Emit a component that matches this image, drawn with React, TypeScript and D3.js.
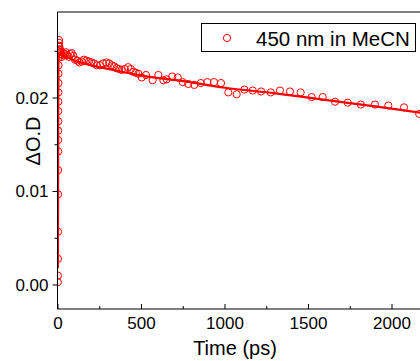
import React from "react";
import * as d3 from "d3";

const timePs = [
  -1.0, -0.6, -0.2, 0.2, 0.5, 0.8, 1.0, 1.2, 1.4, 1.6, 1.8, 2.0, 2.2, 2.5, 2.8, 3.2, 3.7, 4.3, 5, 6, 7, 8, 10, 12, 15, 18, 22, 27, 33, 40, 47, 55, 64, 73, 82, 92,
  102, 115, 128, 142, 155, 170, 185, 200, 216, 232, 251, 270, 290, 306, 322, 336, 351, 366, 381, 400, 420, 436, 451, 466, 481,
  501, 527, 567, 601, 631, 651, 684, 717, 747, 780, 816, 855, 894, 934, 976, 1020, 1070, 1116, 1166, 1216, 1274, 1329, 1389, 1453,
  1519, 1585, 1659, 1735, 1813, 1898, 1978, 2072, 2163,
];
const deltaOD = [
  0.0003, 0.001, 0.0028, 0.0057, 0.0097, 0.0123, 0.0143, 0.0155, 0.0165, 0.0175, 0.0186, 0.0196, 0.0206, 0.0216, 0.0226, 0.0235, 0.0243, 0.025, 0.0256, 0.0262, 0.0259, 0.0255, 0.0252, 0.0249, 0.0251, 0.0247, 0.0244, 0.0246, 0.0248, 0.0247, 0.0249, 0.0246, 0.0244, 0.0247, 0.0248, 0.0245,
  0.0241, 0.024, 0.0238, 0.0239, 0.0241, 0.024, 0.0239, 0.0238, 0.0237, 0.0235, 0.0235, 0.0237, 0.0238, 0.0237, 0.0235, 0.0234, 0.0232, 0.0231, 0.023, 0.0231, 0.0233, 0.0231, 0.0228, 0.0227, 0.0226,
  0.0222, 0.02246, 0.0219, 0.02246, 0.0219, 0.022, 0.0223, 0.0222, 0.0217, 0.0215, 0.0214, 0.0216, 0.0217, 0.0217, 0.0216, 0.0206, 0.0204, 0.0209, 0.0208, 0.0207, 0.0206, 0.0208, 0.0207, 0.0206,
  0.0201, 0.0201, 0.0196, 0.0195, 0.0193, 0.0193, 0.0192, 0.019, 0.0183,
];

const fitTime = [-0.5, 0.5, 1.5, 2.5, 4, 20, 50, 100, 200, 300, 500, 750, 1000, 1300, 1600, 1900, 2200];
const fitOD = [0.0018, 0.011, 0.02, 0.024, 0.0247, 0.0246, 0.0244, 0.024, 0.0235, 0.0231, 0.0224, 0.0218, 0.0211, 0.0205, 0.0198, 0.0191, 0.01835];

const xMajorTicks = [0, 500, 1000, 1500, 2000];
const xMinorTicks = [250, 750, 1250, 1750];
const yMajorTicks = [0.0, 0.01, 0.02];
const yMinorTicks = [0.005, 0.015, 0.025];

const legendLabel = "450 nm in MeCN";
const xTitle = "Time (ps)";
const yTitle = "ΔO.D";

const W = 420;
const H = 361;
const FONT = "'Liberation Sans', Arial, sans-serif";

export default function App() {
  const left = 57.5;
  const top = 12;
  const bottom = 309;
  const x = d3.scaleLinear().domain([-3, 2200]).range([left, left + 2203 * (83.5 / 500)]);
  const y = d3.scaleLinear().domain([-0.00257, 0.0292]).range([bottom, top]);
  const right = x(2200);

  const line = d3
    .line<number>()
    .x((_, i) => x(fitTime[i]))
    .y((d) => y(d))
    .curve(d3.curveMonotoneX);

  const red = "#ff0000";

  return (
    <svg width={W} height={H} style={{ position: "absolute", left: 0, top: 0 }} fontFamily={FONT}>
      <defs>
        <clipPath id="plotClip">
          <rect x={left} y={top} width={right - left} height={bottom - top} />
        </clipPath>
      </defs>
      <rect x={0} y={0} width={W} height={H} fill="#fff" />
      <g clipPath="url(#plotClip)">
        {timePs.map((t, i) => (
          <circle key={i} cx={x(t)} cy={y(deltaOD[i])} r={3.6} fill="none" stroke={red} strokeWidth={1} />
        ))}
        <path d={line(fitOD) || ""} fill="none" stroke={red} strokeWidth={2.2} />
      </g>
      {/* frame */}
      <line x1={left} x2={right} y1={top} y2={top} stroke="#000" strokeWidth={1} />
      <line x1={left} x2={left} y1={top} y2={bottom} stroke="#000" strokeWidth={1} />
      <line x1={left} x2={right} y1={bottom} y2={bottom} stroke="#000" strokeWidth={1} />
      {/* x ticks */}
      {xMajorTicks.map((t) => (
        <g key={"xm" + t}>
          <line x1={x(t)} x2={x(t)} y1={bottom} y2={bottom - 5} stroke="#000" strokeWidth={1} />
          <text x={x(t)} y={bottom + 20} textAnchor="middle" fontSize={17} fill="#000">
            {t}
          </text>
        </g>
      ))}
      {xMinorTicks.map((t) => (
        <line key={"xn" + t} x1={x(t)} x2={x(t)} y1={bottom} y2={bottom - 3} stroke="#000" strokeWidth={1} />
      ))}
      {/* y ticks */}
      {yMajorTicks.map((v) => (
        <g key={"ym" + v}>
          <line x1={left} x2={left - 5} y1={y(v)} y2={y(v)} stroke="#000" strokeWidth={1} />
          <text x={left - 9} y={y(v) + 6} textAnchor="end" fontSize={17} fill="#000">
            {v.toFixed(2)}
          </text>
        </g>
      ))}
      {yMinorTicks.map((v) => (
        <line key={"yn" + v} x1={left} x2={left - 3} y1={y(v)} y2={y(v)} stroke="#000" strokeWidth={1} />
      ))}
      {/* titles */}
      <text x={235} y={355} textAnchor="middle" fontSize={20} fill="#000">
        {xTitle}
      </text>
      <text transform="translate(40,141) rotate(-90)" textAnchor="middle" fontSize={20} fill="#000">
        {yTitle}
      </text>
      {/* legend */}
      <rect x={201.5} y={23.5} width={214} height={28} fill="#fff" stroke="#000" strokeWidth={1} />
      <circle cx={227} cy={38} r={3.6} fill="none" stroke={red} strokeWidth={1} />
      <text x={256} y={45.5} fontSize={20.5} fill="#000">
        {legendLabel}
      </text>
    </svg>
  );
}
